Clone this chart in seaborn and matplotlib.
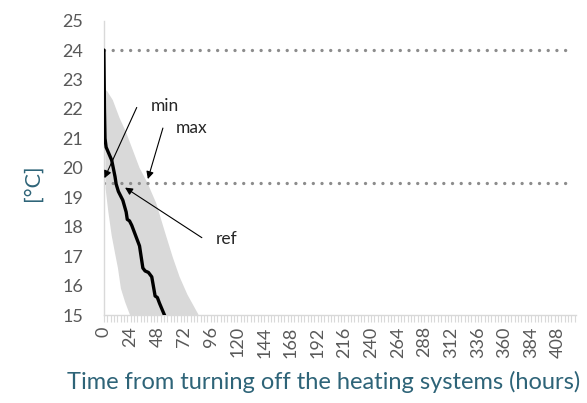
import numpy as np
import pandas as pd
import matplotlib.pyplot as plt
import seaborn as sns

# envelope of all simulated rooms: slowest (max) and fastest (min) cooling
max_hours = [0, 3, 8, 14, 20, 26, 32, 39, 47, 55, 62, 68, 75, 84.5, 88]
max_temp = [22.7, 22.6, 22.3, 21.7, 21.2, 20.6, 20.0, 19.5, 18.8, 17.8, 16.95, 16.3, 15.7, 15.05, 14.7]
min_hours = [0, 1, 1.5, 4, 7, 10, 12.6, 15.3, 19, 23, 26]
min_temp = [22.7, 22.6, 19.3, 18.5, 17.7, 17.1, 16.6, 15.9, 15.45, 15.05, 14.7]

# reference room
ref_hours = [0, 0.5, 1, 2, 7, 10, 11, 13, 17, 20, 21, 23, 25, 28, 32, 35, 37, 40, 43, 46, 48, 50, 55]
ref_temp = [24.0, 22.0, 21.0, 20.7, 20.26, 19.7, 19.45, 19.2, 18.9, 18.5, 18.25, 18.2, 18.05,
            17.75, 17.35, 16.6, 16.5, 16.45, 16.3, 15.65, 15.6, 15.4, 14.95]

upper_limit = 24.0
lower_limit = 19.5

x_ticks = list(range(0, 409, 24))
y_ticks = list(range(15, 26))

sns.set_style("white")
plt.rcParams["font.family"] = ["Lato", "DejaVu Sans"]

fig, ax = plt.subplots(figsize=(5.87, 4.03), dpi=100)
fig.subplots_adjust(left=0.177, right=0.981, bottom=0.218, top=0.949)

# grey band between the two envelope curves
ax.fill(max_hours + min_hours[::-1], max_temp + min_temp[::-1], color="#d9d9d9", lw=0, zorder=1)

# dotted comfort limits
for lim in [upper_limit, lower_limit]:
    lc = ax.hlines(lim, 0, 421, colors="#8c8c8c", lw=2.4,
                   linestyles=[(0, (0.01, 2.6))], zorder=2)
    lc.set_capstyle("round")

ref = pd.DataFrame({"hour": ref_hours, "temp": ref_temp})
sns.lineplot(data=ref, x="hour", y="temp", color="black", lw=2.4, ax=ax, zorder=3)

# labels with arrows (Excel style)
arrow = dict(arrowstyle="-|>", color="black", lw=0.8, mutation_scale=11, shrinkA=0, shrinkB=0)
ax.annotate("", xy=(0.5, 19.65), xytext=(29.5, 22.05), arrowprops=arrow)
ax.annotate("", xy=(39.5, 19.62), xytext=(53, 21.35), arrowprops=arrow)
ax.annotate("", xy=(19, 19.33), xytext=(88, 17.63), arrowprops=arrow)
ax.text(55, 22.1, "min", fontsize=12.5, ha="center", va="center")
ax.text(79, 21.35, "max", fontsize=12.5, ha="center", va="center")
ax.text(110, 17.6, "ref", fontsize=12.5, ha="center", va="center")

ax.set_xlim(0, 424)
ax.set_ylim(15, 25)
ax.set_xticks(x_ticks)
ax.set_xticklabels([str(v) for v in x_ticks], rotation=90)
ax.set_xticks(np.arange(0, 424, 3), minor=True)
ax.set_yticks(y_ticks)

ax.tick_params(axis="x", which="both", direction="out", length=5, width=0.8,
               color="#d9d9d9", labelsize=13, labelcolor="#595959", pad=3, bottom=True)
ax.tick_params(axis="y", length=0, labelsize=13, labelcolor="#595959", pad=15)

for side in ["top", "right"]:
    ax.spines[side].set_visible(False)
for side in ["left", "bottom"]:
    ax.spines[side].set_color("#d9d9d9")
    ax.spines[side].set_linewidth(1)

ax.set_xlabel("Time from turning off the heating systems (hours)", fontsize=17, color="#2e6478")
ax.set_ylabel("[°C]", fontsize=15.5, color="#2e6478")
ax.xaxis.set_label_coords(0.466, -0.19)
ax.yaxis.set_label_coords(-0.13, 0.45)

fig.savefig("out.png", dpi=100)
